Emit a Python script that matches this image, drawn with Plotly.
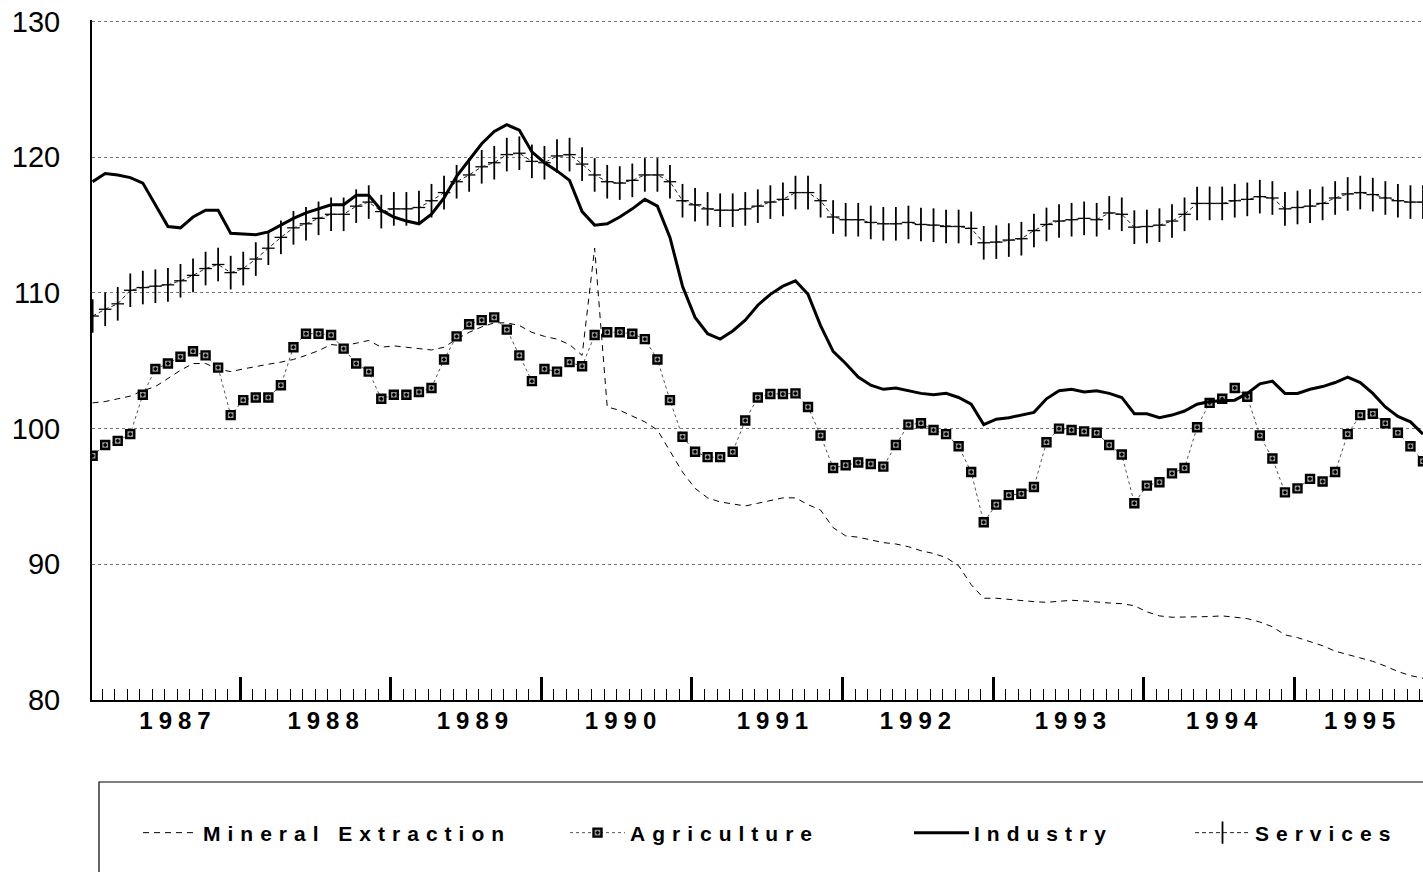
import plotly.graph_objects as go

# ---------------- data (monthly index values, Jan 1987 = month 0) ----------------
years = ["1987", "1988", "1989", "1990", "1991", "1992", "1993", "1994", "1995"]
month_index = list(range(107))

mineral = [101.9, 102.0, 102.2, 102.4, 102.8, 103.1, 103.7, 104.3, 104.8, 104.8,
           104.4, 104.2, 104.4, 104.6, 104.75, 104.9, 105.1, 105.4, 105.75, 106.2,
           106.1, 106.3, 106.5, 106.0, 106.1, 106.0, 105.9, 105.8, 106.0, 106.6,
           107.1, 107.5, 107.8, 107.8, 107.6, 107.1, 106.8, 106.6, 106.2, 105.4,
           113.3, 101.6, 101.35, 100.9, 100.5, 99.9, 98.4, 96.8, 95.6, 94.9,
           94.6, 94.45, 94.3, 94.5, 94.7, 94.9, 94.9, 94.4, 94.0, 92.7,
           92.1, 92.0, 91.8, 91.6, 91.5, 91.3, 91.0, 90.8, 90.5, 89.9,
           88.5, 87.5, 87.5, 87.4, 87.35, 87.25, 87.2, 87.3, 87.35, 87.3,
           87.2, 87.15, 87.1, 86.95, 86.5, 86.2, 86.1, 86.1, 86.1, 86.15,
           86.2, 86.1, 86.0, 85.75, 85.4, 84.8, 84.6, 84.3, 84.0, 83.6,
           83.35, 83.1, 82.85, 82.5, 82.1, 81.8, 81.6]

agriculture = [98.0, 98.8, 99.1, 99.6, 102.5, 104.4, 104.8, 105.3, 105.7, 105.4,
               104.5, 101.0, 102.1, 102.3, 102.3, 103.2, 106.0, 107.0, 107.0, 106.9,
               105.9, 104.8, 104.2, 102.2, 102.5, 102.5, 102.7, 103.0, 105.1, 106.8,
               107.7, 108.0, 108.2, 107.3, 105.4, 103.5, 104.4, 104.2, 104.9, 104.6,
               106.9, 107.1, 107.1, 107.0, 106.6, 105.1, 102.1, 99.4, 98.3, 97.9,
               97.9, 98.3, 100.6, 102.3, 102.55, 102.55, 102.6, 101.6, 99.5, 97.1,
               97.3, 97.5, 97.4, 97.2, 98.8, 100.3, 100.4, 99.9, 99.6, 98.7,
               96.8, 93.1, 94.4, 95.1, 95.2, 95.7, 99.0, 100.0, 99.9, 99.8,
               99.7, 98.8, 98.1, 94.5, 95.8, 96.05, 96.7, 97.1, 100.1, 101.9,
               102.2, 103.0, 102.35, 99.5, 97.8, 95.3, 95.6, 96.3, 96.1, 96.8,
               99.6, 101.0, 101.1, 100.4, 99.7, 98.7, 97.6]

industry = [118.2, 118.8, 118.7, 118.5, 118.1, 116.5, 114.9, 114.8, 115.6, 116.1,
            116.1, 114.4, 114.35, 114.3, 114.5, 115.0, 115.5, 115.9, 116.2, 116.5,
            116.5, 117.2, 117.2, 116.1, 115.6, 115.3, 115.1, 115.8, 117.0, 118.6,
            119.8, 121.0, 121.9, 122.4, 122.0, 120.4, 119.6, 119.0, 118.3, 116.0,
            115.0, 115.1, 115.6, 116.2, 116.9, 116.4, 114.1, 110.5, 108.2, 107.0,
            106.6, 107.2, 108.0, 109.1, 109.9, 110.5, 110.9, 109.9, 107.6, 105.7,
            104.8, 103.8, 103.2, 102.9, 103.0, 102.8, 102.6, 102.5, 102.6, 102.3,
            101.8, 100.3, 100.7, 100.8, 101.0, 101.2, 102.2, 102.8, 102.9, 102.7,
            102.8, 102.6, 102.3, 101.1, 101.1, 100.8, 101.0, 101.3, 101.8, 102.0,
            102.05, 102.1, 102.6, 103.3, 103.5, 102.6, 102.6, 102.9, 103.1, 103.4,
            103.8, 103.4, 102.6, 101.6, 100.9, 100.5, 99.6]

services = [108.3, 108.8, 109.2, 110.2, 110.4, 110.5, 110.6, 110.9, 111.3, 111.8,
            112.1, 111.5, 111.8, 112.5, 113.3, 114.1, 114.8, 115.1, 115.5, 115.8,
            115.8, 116.4, 116.7, 116.0, 116.2, 116.2, 116.3, 116.8, 117.4, 118.2,
            118.7, 119.3, 119.6, 120.2, 120.3, 119.7, 119.6, 120.1, 120.2, 119.5,
            118.7, 118.2, 118.1, 118.3, 118.7, 118.7, 118.2, 116.8, 116.5, 116.2,
            116.1, 116.1, 116.2, 116.4, 116.7, 116.9, 117.4, 117.4, 116.8, 115.6,
            115.4, 115.4, 115.2, 115.1, 115.1, 115.2, 115.05, 115.0, 114.9, 114.9,
            114.76, 113.7, 113.75, 113.9, 114.0, 114.6, 115.05, 115.3, 115.4, 115.5,
            115.4, 115.9, 115.8, 114.85, 114.9, 115.0, 115.3, 115.8, 116.6, 116.6,
            116.6, 116.8, 116.9, 117.1, 117.0, 116.2, 116.3, 116.4, 116.6, 117.0,
            117.3, 117.4, 117.25, 117.0, 116.8, 116.7, 116.7]

y_ticks = [80, 90, 100, 110, 120, 130]

# year-label positions (in month units) as placed in the original chart
label_pos = [6.8, 18.6, 30.5, 42.3, 54.4, 65.8, 78.15, 90.2, 101.2]

# ---------------- axis tick positions derived from the year list ----------------
year_bounds = [12 * k + 11.75 for k in range(len(years) - 1)]
month_bounds = [b for b in (11.75 + j for j in range(-12, 96)) if 0 < b < 106]
x_range = [-0.05, 106]

fig = go.Figure()

fig.add_trace(go.Scatter(
    x=month_index, y=mineral, name="Mineral Extraction", mode="lines",
    line=dict(color="black", width=1, dash="6px,5px"),
    legendwidth=357,
))
fig.add_trace(go.Scatter(
    x=month_index, y=agriculture, name="Agriculture", mode="lines+markers",
    line=dict(color="#555555", width=1, dash="dot"),
    marker=dict(symbol="square-dot", size=8, color="#9a9a9a",
                line=dict(color="black", width=2.4)),
    legendwidth=274,
))
fig.add_trace(go.Scatter(
    x=month_index, y=industry, name="Industry", mode="lines",
    line=dict(color="black", width=3),
    legendwidth=211,
))
fig.add_trace(go.Scatter(
    x=month_index, y=services, name="Services", mode="lines+markers",
    line=dict(color="#222222", width=1, dash="4px,3px"),
    marker=dict(symbol="line-ns", size=24, color="black",
                line=dict(color="black", width=1.8)),
    error_x=dict(type="constant", value=0.5, width=0, thickness=1.3, color="black"),
    legendwidth=150,
))
# empty carrier so that the year-label axis is drawn
fig.add_trace(go.Scatter(x=[], y=[], xaxis="x2", yaxis="y", showlegend=False,
                         hoverinfo="skip"))

plot_left, plot_right, plot_top, plot_bottom = 92, 1423, 20, 700
pw = plot_right - plot_left
ph = plot_bottom - plot_top

fig.update_layout(
    width=1423, height=872,
    margin=dict(l=plot_left, r=1423 - plot_right, t=plot_top, b=872 - plot_bottom, pad=0),
    plot_bgcolor="white", paper_bgcolor="white",
    showlegend=True,
    legend=dict(
        orientation="h",
        x=(138 - plot_left) / pw, xanchor="left",
        y=(plot_bottom - 833) / ph, yanchor="middle",
        font=dict(family="Arial", size=21, color="black", weight="bold"),
        itemwidth=55, bgcolor="rgba(0,0,0,0)", borderwidth=0,
    ),
    xaxis=dict(
        range=x_range, tickmode="array", tickvals=year_bounds,
        ticks="inside", ticklen=23, tickwidth=3, tickcolor="black",
        showticklabels=False, showgrid=False, zeroline=False,
        showline=True, linecolor="black", linewidth=1.5,
        minor=dict(tickmode="array", tickvals=month_bounds, ticks="inside",
                   ticklen=11, tickwidth=1, tickcolor="black", showgrid=False),
    ),
    xaxis2=dict(
        overlaying="x", anchor="y", side="bottom",
        range=x_range, tickmode="array", tickvals=label_pos, ticktext=years,
        ticks="", showgrid=False, zeroline=False, showline=False,
        tickfont=dict(family="Arial", size=24, color="black", weight="bold"),
        ticklabelstandoff=4,
    ),
    yaxis=dict(
        range=[80, 130.12], tickmode="array", tickvals=y_ticks,
        showgrid=True, gridcolor="#777777", griddash="dot", gridwidth=1,
        showline=True, linecolor="black", linewidth=2, ticks="",
        zeroline=False,
        tickfont=dict(family="Arial", size=29, color="black"),
        ticklabelstandoff=24,
    ),
    shapes=[dict(
        type="rect", xref="paper", yref="paper",
        x0=(99 - plot_left) / pw, x1=1.05,
        y0=(plot_bottom - 782) / ph, y1=(plot_bottom - 920) / ph,
        line=dict(color="black", width=1.2), fillcolor="rgba(0,0,0,0)",
    )],
)

post = """
document.body.style.margin = '0';
var gd = document.getElementById('{plot_id}');
gd.querySelectorAll('.legendtext').forEach(function(t){ t.style.letterSpacing = '7px'; });
gd.querySelectorAll('.x2tick text').forEach(function(t){ t.style.letterSpacing = '6px'; });
"""

fig.write_html("out.html", post_script=post, config={"displayModeBar": False})
